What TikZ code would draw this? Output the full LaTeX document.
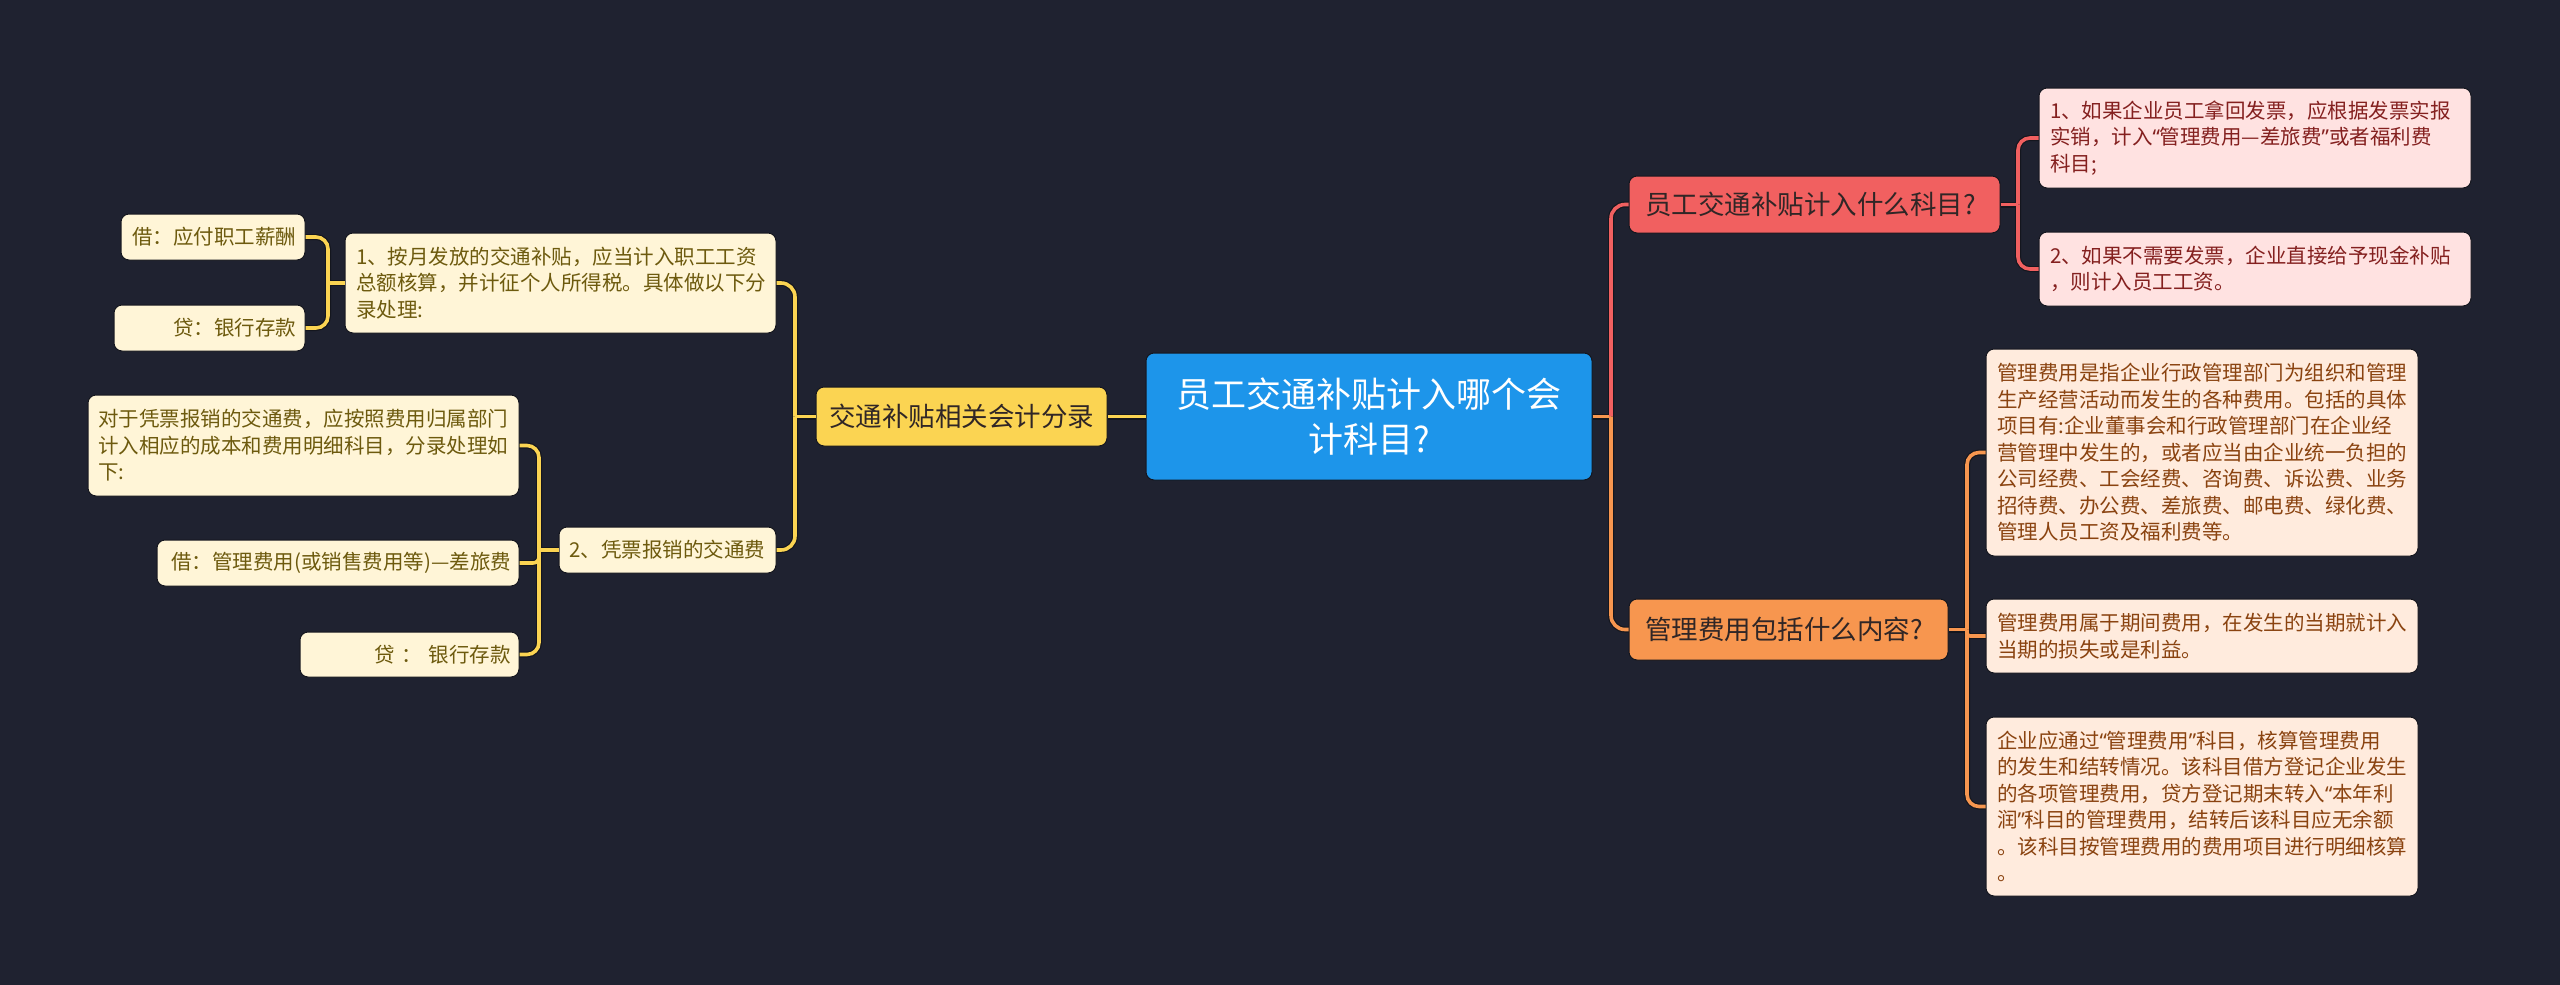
\documentclass[tikz,border=0pt]{standalone}
\usepackage{fontspec}
\setmainfont{Noto Sans CJK SC}
\newfontfamily\qf{Noto Sans}
\newcommand\oqt{{\qf “}}
\newcommand\cqt{{\qf ”}}
\definecolor{bg}{HTML}{1F2230}
\definecolor{edgec}{HTML}{14161E}
\definecolor{cblue}{HTML}{1D95EA}
\definecolor{cred}{HTML}{F16060}
\definecolor{cpink}{HTML}{FFE2E1}
\definecolor{tpink}{HTML}{84201F}
\definecolor{corange}{HTML}{F7964F}
\definecolor{cpeach}{HTML}{FFEBDD}
\definecolor{tpeach}{HTML}{8A4310}
\definecolor{cyellow}{HTML}{FBD452}
\definecolor{ccream}{HTML}{FFF5D7}
\definecolor{tcream}{HTML}{6D5A0E}
\definecolor{tdark}{HTML}{302626}
\newcommand\myfs[2]{\fontsize{#1}{#2}\selectfont}
\newcommand\mylinks[1]{%
  \draw[ocol,#1] (root.east) -- (jR);
  \draw[rcol,#1,rounded corners=14pt] (jR) |- (q1.west);
  \draw[ocol,#1,rounded corners=14pt] (jR) |- (q2.west);
  \draw[rcol,#1] (q1.east) -- (jr);
  \draw[rcol,#1,rc] (jr) |- (p1.west);
  \draw[rcol,#1,rc] (jr) |- (p2.west);
  \draw[ocol,#1] (q2.east) -- (jo);
  \draw[ocol,#1,rc] (jo) |- (e1.west);
  \draw[ocol,#1,rounded corners=3pt] (jo) |- (e2.west);
  \draw[ocol,#1,rc] (jo) |- (e3.west);
  \draw[ycol,#1] (root.west) -- (yel.east);
  \draw[ycol,#1] (yel.west) -- (jL);
  \draw[ycol,#1,rounded corners=14pt] (jL) |- (c1.east);
  \draw[ycol,#1,rounded corners=14pt] (jL) |- (c2.east);
  \draw[ycol,#1] (c1.west) -- (j1);
  \draw[ycol,#1,rc] (j1) |- (c11.east);
  \draw[ycol,#1,rc] (j1) |- (c12.east);
  \draw[ycol,#1] (c2.west) -- (j2);
  \draw[ycol,#1,rc] (j2) |- (c21.east);
  \draw[ycol,#1,rounded corners=6pt] (j2) |- (c22.east);
  \draw[ycol,#1,rc] (j2) |- (c23.east);
}
\begin{document}
\begin{tikzpicture}[x=1pt,y=-1pt,
  base/.style={rounded corners=8pt, draw=edgec, line width=1pt, inner sep=0pt, anchor=center},
  topic/.style={base, font=\myfs{26.5}{32}, text=tdark},
  leaf/.style={base, font=\myfs{20.5}{26.5}},
  pinkbox/.style={leaf, fill=cpink, text=tpink},
  peachbox/.style={leaf, fill=cpeach, text=tpeach},
  creambox/.style={leaf, fill=ccream, text=tcream},
  rcol/.style={draw=cred},
  ocol/.style={draw=corange},
  ycol/.style={draw=cyellow},
  rc/.style={rounded corners=12pt},
  under/.style={draw=edgec, line width=6pt},
  over/.style={line width=3.6pt}]
\fill[bg] (0,0) rectangle (2560,985);
\useasboundingbox (0,0) rectangle (2560,985);

% central
\node[base, fill=cblue, text=white, minimum width=446pt, minimum height=127pt, text width=430pt, align=center, font=\myfs{35}{45}] (root) at (1369,416.5) {员工交通补贴计入哪个会\\计科目?};

% right topics
\node[topic, fill=cred, minimum width=371pt, minimum height=57pt, text width=339pt, align=left] (q1) at (1814.5,204.5) {员工交通补贴计入什么科目?};
\node[topic, fill=corange, minimum width=319pt, minimum height=61pt, text width=287pt, align=left] (q2) at (1788.5,629.5) {管理费用包括什么内容?};

% pink leaves
\node[pinkbox, minimum width=432pt, minimum height=100pt, text width=410pt, align=left] (p1) at (2255,138) {1、如果企业员工拿回发票，应根据发票实报\\实销，计入\oqt 管理费用—差旅费\cqt 或者福利费\\科目;};
\node[pinkbox, minimum width=432pt, minimum height=74pt, text width=410pt, align=left] (p2) at (2255,269) {2、如果不需要发票，企业直接给予现金补贴\\，则计入员工工资。};

% peach leaves
\node[peachbox, minimum width=432pt, minimum height=207pt, text width=410pt, align=left] (e1) at (2202,452.5) {管理费用是指企业行政管理部门为组织和管理\\生产经营活动而发生的各种费用。包括的具体\\项目有:企业董事会和行政管理部门在企业经\\营管理中发生的，或者应当由企业统一负担的\\公司经费、工会经费、咨询费、诉讼费、业务\\招待费、办公费、差旅费、邮电费、绿化费、\\管理人员工资及福利费等。};
\node[peachbox, minimum width=432pt, minimum height=74pt, text width=410pt, align=left] (e2) at (2202,636) {管理费用属于期间费用，在发生的当期就计入\\当期的损失或是利益。};
\node[peachbox, minimum width=432pt, minimum height=179pt, text width=410pt, align=left] (e3) at (2202,806.5) {企业应通过\oqt 管理费用\cqt 科目，核算管理费用\\的发生和结转情况。该科目借方登记企业发生\\的各项管理费用，贷方登记期末转入\oqt 本年利\\润\cqt 科目的管理费用，结转后该科目应无余额\\。该科目按管理费用的费用项目进行明细核算\\。};

% left topic
\node[topic, fill=cyellow, minimum width=291pt, minimum height=59pt] (yel) at (961.5,416.5) {交通补贴相关会计分录};

% cream leaves
\node[creambox, minimum width=431pt, minimum height=100pt, text width=409pt, align=left] (c1) at (560.5,283) {1、按月发放的交通补贴，应当计入职工工资\\总额核算，并计征个人所得税。具体做以下分\\录处理:};
\node[creambox, minimum width=217pt, minimum height=46pt] (c2) at (667.5,550) {2、凭票报销的交通费};
\node[creambox, minimum width=184pt, minimum height=46pt, text width=166pt, align=right] (c11) at (213,237) {借：应付职工薪酬};
\node[creambox, minimum width=191pt, minimum height=46pt, text width=173pt, align=right] (c12) at (209.5,328) {贷：银行存款};
\node[creambox, minimum width=431pt, minimum height=101pt, text width=411pt, align=left] (c21) at (303.5,445.5) {对于凭票报销的交通费，应按照费用归属部门\\计入相应的成本和费用明细科目，分录处理如\\下:};
\node[creambox, minimum width=362pt, minimum height=46pt, text width=346pt, align=right] (c22) at (338,563) {借：管理费用(或销售费用等)—差旅费};
\node[creambox, minimum width=219pt, minimum height=45pt, text width=203pt, align=right] (c23) at (409.5,654.5) {贷 ： 银行存款};

% junctions
\coordinate (jR) at (1611,416.5);
\coordinate (jr) at (2018,204.5);
\coordinate (jo) at (1967,629.5);
\coordinate (jL) at (795,416.5);
\coordinate (j1) at (328,283);
\coordinate (j2) at (539,550);

\mylinks{under}
\mylinks{over}
\end{tikzpicture}
\end{document}
